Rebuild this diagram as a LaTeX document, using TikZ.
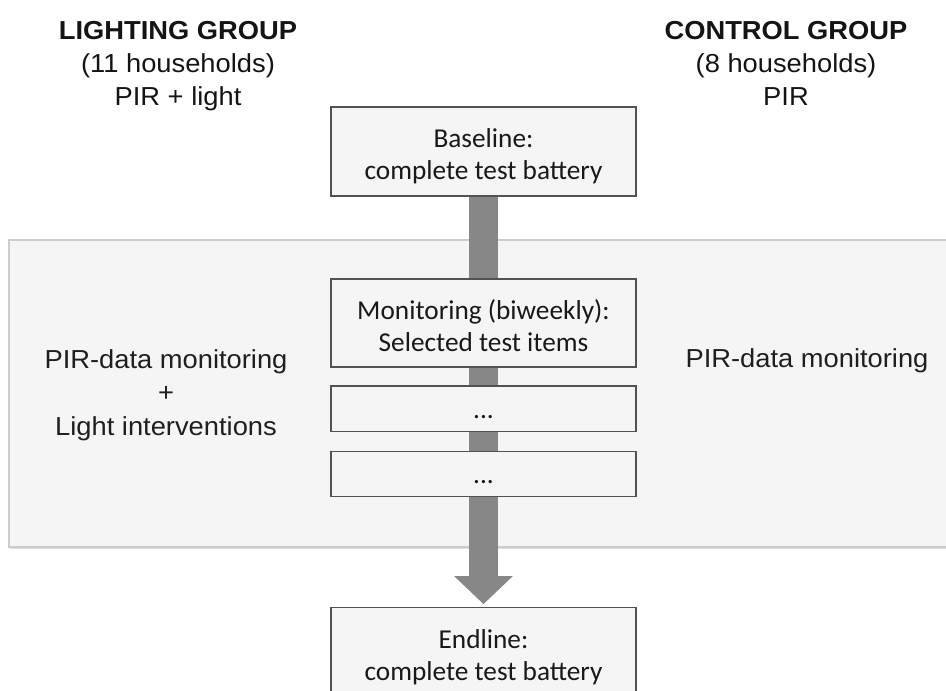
\documentclass[tikz,border=0pt]{standalone}
\usepackage{fontspec}
\newfontfamily\arialfont{Liberation Sans}[FakeStretch=1.05]
\newfontfamily\califont{Carlito}
\usetikzlibrary{positioning,arrows.meta,shadows,backgrounds}

\begin{document}
\begin{tikzpicture}[
  x=0.025cm, y=0.025cm,
  every node/.style={inner sep=2pt, outer sep=0pt},
  stagebox/.style={
    rectangle, draw=black!68, line width=0.8pt,
    fill=black!4,
    minimum width=7.625cm, minimum height=2.225cm,
    text height=44.5pt, text depth=4pt,
    align=center, text=black!90,
    font=\califont\fontsize{19.4}{22.8}\selectfont,
    drop shadow={shadow xshift=0.7pt, shadow yshift=-0.7pt, opacity=0.3},
  },
  dotbox/.style={stagebox, minimum height=1.125cm,
    text height=13.5pt, text depth=0pt},
  hdr/.style={align=center, anchor=base, text=black!92,
    font=\arialfont\fontsize{18.5}{23.8}\selectfont},
  side/.style={align=center, text=black!88,
    font=\arialfont\fontsize{18.5}{23.7}\selectfont},
  panel/.style={draw=black!20, line width=0.8pt, fill=black!4,
    drop shadow={shadow xshift=0.6pt, shadow yshift=-1.6pt, opacity=0.25}},
  flowarrow/.style={draw=black!47, line width=0.725cm,
    -{Triangle[length=0.7cm, width=1.425cm]}, shorten >=0.075cm},
]

\useasboundingbox (0,0) rectangle (946,690);

% ----- group headers (anchored on the last baseline) -----
\node[hdr] (HL) at (178,584)
  {\textbf{LIGHTING GROUP}\\(11 households)\\PIR + light};
\node[hdr] (HC) at (786,584)
  {\textbf{CONTROL GROUP}\\(8 households)\\PIR};

% ----- stages, stacked in the middle column -----
\node[stagebox] (BL) at (483.5,538.5) {Baseline:\\complete test battery};
\node[stagebox, minimum height=2.2cm, below=2.075cm of BL] (MN)
  {Monitoring (biweekly):\\Selected test items};
\node[dotbox, below=0.475cm of MN] (D1) {...};
\node[dotbox, below=0.5cm of D1] (D2) {...};
\node[stagebox, below=2.775cm of D2] (EL) {Endline:\\complete test battery};

% ----- monitoring period: panel + flow arrow behind the boxes -----
\begin{scope}[on background layer]
  \path[panel] (9,143) rectangle (960,450);
  \draw[flowarrow] (BL.south) -- (EL.north);
\end{scope}

% ----- what each group gets during monitoring -----
\node[side] (TL) at (166,295)
  {PIR-data monitoring\\+\\Light interventions};
\node[side] (TR) at (807,329) {PIR-data monitoring};

\end{tikzpicture}
\end{document}
